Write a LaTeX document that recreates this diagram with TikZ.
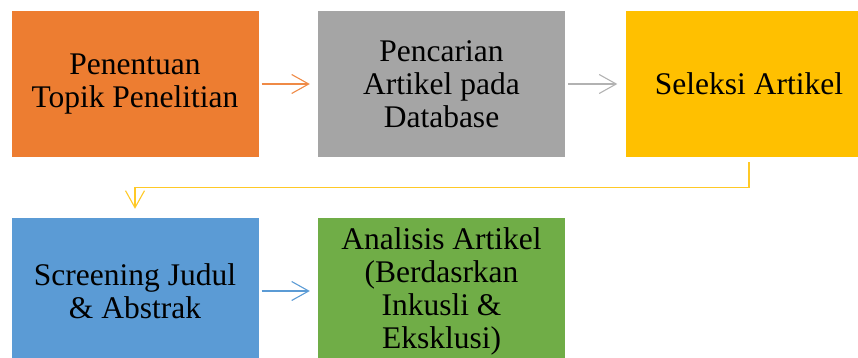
\documentclass[tikz,border=0pt]{standalone}
\usepackage{fontspec}
\setmainfont{Liberation Serif}
\newfontfamily\tnr{Liberation Serif}
\usetikzlibrary{arrows.meta}
\definecolor{cOrange}{HTML}{ED7D31}
\definecolor{cGray}{HTML}{A5A5A5}
\definecolor{cYellow}{HTML}{FFC000}
\definecolor{cBlue}{HTML}{5B9BD5}
\definecolor{cGreen}{HTML}{70AD47}
\tikzset{
  stepbox/.style={rectangle, minimum width=247pt, minimum height=146pt, inner sep=0pt,
    align=center, font=\tnr\fontsize{31.5}{33}\selectfont, text=black},
  flow/.style={line width=1.1pt, -{Straight Barb[length=17pt,width=19pt,line width=1.1pt]},
    shorten <=3pt, shorten >=8pt},
}
\begin{document}
\begin{tikzpicture}[x=1pt,y=-1pt]
\useasboundingbox (0,0) rectangle (858,358);
\clip (0,0) rectangle (858,358);
\node[stepbox, fill=cOrange] (a) at (135,84) {Penentuan\\Topik Penelitian};
\node[stepbox, fill=cGray] (b) at (441.5,84) {Pencarian\\Artikel pada\\Database};
\node[stepbox, fill=cYellow] (c) at (749,84) {Seleksi Artikel};
\node[stepbox, fill=cBlue] (d) at (135,291) {Screening Judul\\\& Abstrak};
\node[stepbox, fill=cGreen] (e) at (441.5,291) {Analisis Artikel\\(Berdasrkan\\Inkusli \&\\Eksklusi)};
\draw[flow, draw=cOrange!90] (a.east) -- (b.west);
\draw[flow, draw=cGray!85] (b.east) -- (c.west);
\draw[flow, draw=cBlue] (d.east) -- (e.west);
\draw[line width=1.1pt, draw=cYellow!85, -{Straight Barb[length=17pt,width=19pt,line width=1.1pt]}]
  ([yshift=-5pt]c.south) |- ([yshift=30pt]d.north) -- ([yshift=9pt]d.north);
\end{tikzpicture}
\end{document}
